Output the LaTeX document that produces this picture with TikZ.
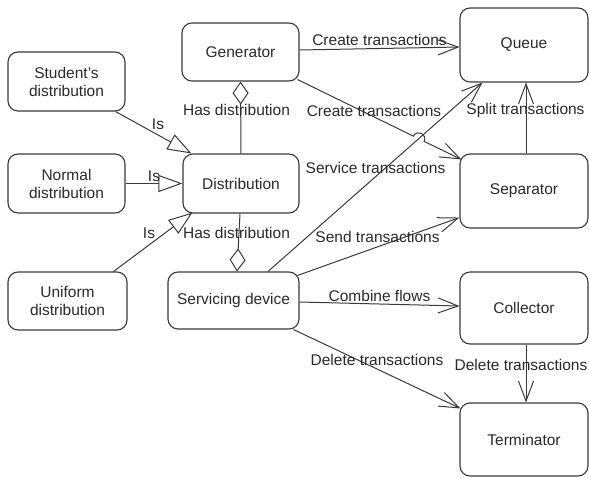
\documentclass[tikz,border=0pt]{standalone}
\usepackage{fontspec}
\setmainfont{Liberation Sans}
\usetikzlibrary{arrows.meta,calc}
\definecolor{ln}{HTML}{3A3A3A}
\definecolor{tx}{HTML}{2A2A2A}
\begin{document}
\begin{tikzpicture}[x=1pt,y=-1pt,
  every node/.style={font=\fontsize{15.5}{18}\selectfont, text=tx},
  box/.style={draw=ln, line width=1.1pt, rounded corners=10pt, align=center, inner sep=0pt},
  lbl/.style={inner sep=0pt},
  conn/.style={draw=ln, line width=1pt},
  arr/.style={conn, -{Straight Barb[length=20pt,width=15pt,line width=1pt]}},
  isa/.style={conn, -{Triangle[open,length=24pt,width=17pt,fill=white,line width=1pt]}},
  hasa/.style={conn, -{Diamond[open,length=23pt,width=16pt,fill=white,line width=1pt]}}]
\useasboundingbox (0,0) rectangle (589,477);
\fill[white] (0,0) rectangle (589,477);

\node[box, minimum width=117pt, minimum height=58pt] (gen) at (240.5,52) {Generator};
\node[box, minimum width=117pt, minimum height=59pt] (stud) at (66.5,81.5) {Student's\\distribution};
\node[box, minimum width=117pt, minimum height=59pt] (norm) at (66.5,183.5) {Normal\\distribution};
\node[box, minimum width=116pt, minimum height=59pt] (dist) at (241,183.5) {Distribution};
\node[box, minimum width=119pt, minimum height=58pt] (unif) at (67.5,301) {Uniform\\distribution};
\node[box, minimum width=131pt, minimum height=57pt] (serv) at (233.5,300.5) {Servicing device};
\node[box, minimum width=128pt, minimum height=74pt] (queue) at (524,45) {Queue};
\node[box, minimum width=128pt, minimum height=74pt] (sep) at (524,191) {Separator};
\node[box, minimum width=128pt, minimum height=72pt] (coll) at (524,308) {Collector};
\node[box, minimum width=128pt, minimum height=73pt] (term) at (524,439.5) {Terminator};

% inheritance
\draw[isa] ([shift={(-10,0)}]stud.south east) -- ([shift={(9,0)}]dist.north west);
\draw[isa] (norm.east) -- (dist.west);
\draw[isa] ([shift={(-14,0)}]unif.north east) -- ([shift={(10,-1)}]dist.south west);
% aggregation
\draw[hasa] (dist.north) -- (gen.south);
\draw[hasa] ([shift={(-1,0)}]dist.south) -- ([shift={(3.5,0)}]serv.north);
% flows
\draw[arr] ([shift={(0,-2)}]gen.east) -- ([shift={(0,2)}]queue.west);
\draw[arr] ([shift={(-2,-2)}]gen.south east) -- (413.36,136.13)
  .. controls (416.89,128.95) and (427.67,134.23) .. (424.14,141.41)
  -- ([shift={(2,6)}]sep.north west);
\draw[arr] ([shift={(34.5,0)}]serv.north) -- ([shift={(23,0)}]queue.south west);
\draw[arr] ([shift={(-2,4)}]serv.north east) -- ([shift={(0,-11)}]sep.south west);
\draw[arr] ([shift={(0,1.5)}]serv.east) -- ([shift={(0,-2)}]coll.west);
\draw[arr] ([shift={(-6,0)}]serv.south east) -- ([shift={(1,6)}]term.north west);
\draw[arr] ([shift={(2,0)}]sep.north) -- ([shift={(2,0)}]queue.south);
\draw[arr] ([shift={(2,0)}]coll.south) -- ([shift={(2,0)}]term.north);

% labels
\node[lbl] (l1) at (158,124) {Is};
\node[lbl] (l2) at (154,176) {Is};
\node[lbl] (l3) at (149,233) {Is};
\node[lbl] (l4) at (236.5,110) {Has distribution};
\node[lbl] (l5) at (236.5,233) {Has distribution};
\node[lbl] (l6) at (379.5,40) {Create transactions};
\node[lbl] (l7) at (374,111) {Create transactions};
\node[lbl] (l8) at (525.5,110) {Split transactions};
\node[lbl] (l9) at (375.5,168) {Service transactions};
\node[lbl] (l10) at (377.5,237) {Send transactions};
\node[lbl] (l11) at (379.5,296) {Combine flows};
\node[lbl] (l12) at (377,360) {Delete transactions};
\node[lbl] (l13) at (521,365) {Delete transactions};
\end{tikzpicture}
\end{document}
